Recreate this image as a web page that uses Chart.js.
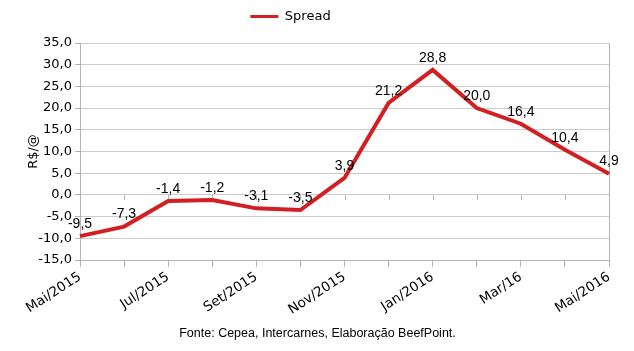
<!DOCTYPE html>
<html>
<head>
<meta charset="utf-8">
<script src="https://cdn.jsdelivr.net/npm/chart.js@4"></script>
<style>
  html, body { margin: 0; padding: 0; background: #fff; }
  #wrap { width: 634px; height: 351px; }
</style>
</head>
<body>
<div id="wrap"><canvas id="spreadChart" width="634" height="351"></canvas></div>
<script>
// Months on the x axis (only every other one gets a label)
var months = ['Mai/2015', 'Jun/2015', 'Jul/2015', 'Ago/2015', 'Set/2015', 'Out/2015', 'Nov/2015',
              'Dez/2015', 'Jan/2016', 'Fev/16', 'Mar/16', 'Abr/16', 'Mai/2016'];
// Spread in R$/@
var spread = [-9.5, -7.3, -1.4, -1.2, -3.1, -3.5, 3.9, 21.2, 28.8, 20.0, 16.4, 10.4, 4.9];
// y axis range
var yMin = -15, yMax = 35, yStep = 5;

var red = '#d21f23';
var gridGrey = '#cccccc';
var axisGrey = '#b3b3b3';

function fmt(v) {
    return v.toFixed(1).replace('.', ',');
}

// Value labels above each point
var valueLabels = {
    id: 'valueLabels',
    afterDatasetsDraw: function(chart) {
        var ctx = chart.ctx;
        var meta = chart.getDatasetMeta(0);
        ctx.save();
        ctx.font = '14px "Liberation Sans", Arial, sans-serif';
        ctx.fillStyle = '#000';
        ctx.textAlign = 'center';
        ctx.textBaseline = 'middle';
        meta.data.forEach(function(pt, i) {
            ctx.fillText(fmt(spread[i]), pt.x, pt.y - 12);
        });
        ctx.restore();
    }
};

// Small tick marks where the x axis crosses zero
var zeroTicks = {
    id: 'zeroTicks',
    beforeDatasetsDraw: function(chart) {
        var ctx = chart.ctx;
        var x = chart.scales.x, y = chart.scales.y;
        var y0 = y.getPixelForValue(0);
        ctx.save();
        ctx.strokeStyle = axisGrey;
        ctx.lineWidth = 1;
        months.forEach(function(m, i) {
            var px = Math.round(x.getPixelForValue(i)) + 0.5;
            ctx.beginPath();
            ctx.moveTo(px, y0);
            ctx.lineTo(px, y0 + 5);
            ctx.stroke();
        });
        ctx.restore();
    }
};

// Extra room under the legend, and nudge the legend to the left
var layoutTweaks = {
    id: 'layoutTweaks',
    afterInit: function(chart) {
        var lg = chart.legend;
        var fit = lg.fit;
        lg.fit = function() {
            fit.call(this);
            this.height += 10;
        };
    },
    afterLayout: function(chart) {
        chart.legend.left -= 27;
        chart.legend.right -= 27;
    }
};

var ctx = document.getElementById('spreadChart').getContext('2d');
var chart = new Chart(ctx, {
    type: 'line',
    data: {
        labels: months,
        datasets: [{
            label: 'Spread',
            data: spread,
            borderColor: red,
            backgroundColor: red,
            borderWidth: 4,
            pointRadius: 0,
            tension: 0,
            fill: false
        }]
    },
    options: {
        responsive: false,
        animation: false,
        layout: { padding: { left: 26, right: 25, top: 0, bottom: 0 } },
        plugins: {
            legend: {
                position: 'top',
                labels: {
                    boxWidth: 28,
                    boxHeight: 3,
                    color: '#000',
                    padding: 10,
                    font: { family: '"DejaVu Sans", Verdana, sans-serif', size: 13 },
                    generateLabels: function(chart) {
                        var items = Chart.defaults.plugins.legend.labels.generateLabels(chart);
                        items.forEach(function(it) { it.lineWidth = 0; });
                        return items;
                    }
                }
            },
            title: {
                display: true,
                position: 'bottom',
                text: 'Fonte: Cepea, Intercarnes, Elaboração BeefPoint.',
                color: '#000',
                font: { family: '"Liberation Sans", Arial, sans-serif', size: 12.5, weight: 'normal' },
                padding: { top: 0, bottom: 10 }
            },
            tooltip: { enabled: false }
        },
        scales: {
            x: {
                offset: false,
                afterFit: function(s) { s.height = 66; },
                grid: {
                    color: function(c) {
                        return (c.index === months.length - 1) ? axisGrey : 'transparent';
                    },
                    tickColor: axisGrey,
                    tickLength: 7
                },
                border: { color: axisGrey },
                ticks: {
                    autoSkip: false,
                    maxRotation: 33,
                    minRotation: 33,
                    padding: 2,
                    color: '#000',
                    font: { family: '"DejaVu Sans", Verdana, sans-serif', size: 13.5 },
                    callback: function(v, i) { return i % 2 === 0 ? months[i] : ''; }
                }
            },
            y: {
                min: yMin,
                max: yMax,
                afterFit: function(s) { s.width = 54; },
                grid: { color: gridGrey, tickColor: axisGrey, tickLength: 5 },
                border: { color: axisGrey },
                title: {
                    display: true,
                    text: 'R$/@',
                    color: '#000',
                    padding: 0,
                    font: { family: '"DejaVu Sans", Verdana, sans-serif', size: 13 }
                },
                ticks: {
                    stepSize: yStep,
                    padding: 3,
                    color: '#000',
                    font: { family: '"DejaVu Sans", Verdana, sans-serif', size: 13 },
                    callback: function(v) { return fmt(v); }
                }
            }
        }
    },
    plugins: [valueLabels, zeroTicks, layoutTweaks]
});
</script>
</body>
</html>
